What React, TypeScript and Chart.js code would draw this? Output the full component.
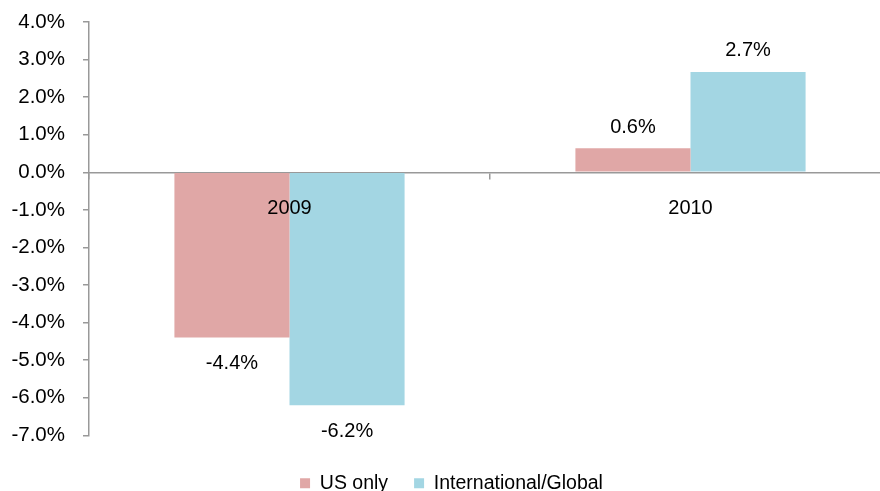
import React, { useEffect, useRef } from "react";
import { Chart, registerables } from "chart.js";

Chart.register(...registerables);

const categories = ["2009", "2010"];
const seriesNames = ["US only", "International/Global"];
const usOnly = [-4.4, 0.64];
const international = [-6.2, 2.67];
const seriesColors = ["#E0A7A6", "#A3D6E3"];
const yMin = -7;
const yMax = 4;
const yStep = 1;

const FONT = "'Liberation Sans', Arial, sans-serif";

const valueLabels = {
  id: "valueLabels",
  afterDatasetsDraw(chart: any) {
    const ctx = chart.ctx;
    ctx.save();
    ctx.font = `20px ${FONT}`;
    ctx.fillStyle = "#000";
    ctx.textAlign = "center";
    ctx.textBaseline = "middle";
    chart.data.datasets.forEach((ds: any, di: number) => {
      const meta = chart.getDatasetMeta(di);
      meta.data.forEach((bar: any, i: number) => {
        const v = ds.data[i];
        const y = v >= 0 ? bar.y - 21 : bar.y + 26;
        ctx.fillText(v.toFixed(1) + "%", bar.x, y);
      });
    });
    ctx.restore();
  },
};

const shiftLegend = {
  id: "shiftLegend",
  afterLayout(chart: any) {
    if (chart.legend) {
      chart.legend.left += 6;
      chart.legend.right += 6;
    }
  },
};

export default function App() {
  const ref = useRef<HTMLCanvasElement>(null);
  useEffect(() => {
    const chart = new Chart(ref.current!, {
      type: "bar",
      data: {
        labels: categories,
        datasets: [
          { label: seriesNames[0], data: usOnly, backgroundColor: seriesColors[0], categoryPercentage: 0.574, barPercentage: 1 },
          { label: seriesNames[1], data: international, backgroundColor: seriesColors[1], categoryPercentage: 0.574, barPercentage: 1 },
        ],
      },
      options: {
        animation: false,
        responsive: false,
        maintainAspectRatio: false,
        layout: { padding: { top: 22, right: 9, bottom: 0, left: 0 } },
        plugins: {
          tooltip: { enabled: false },
          legend: {
            position: "bottom",
            title: { display: true, text: "", font: { size: 1 }, padding: { top: 11, bottom: 0 } },
            labels: {
              boxWidth: 10,
              boxHeight: 10,
              color: "#000",
              font: { family: FONT, size: 19.5 },
              padding: 26,
            },
          },
        },
        scales: {
          x: {
            position: { y: 0 } as any,
            offset: true,
            grid: { offset: true, drawOnChartArea: false, drawTicks: true, tickLength: 6, color: "#999", lineWidth: 1.5 },
            border: { display: true, color: "#999", width: 1.5 },
            ticks: { color: "#000", font: { family: FONT, size: 20 }, padding: 18, maxRotation: 0, z: 1 } as any,
          },
          y: {
            min: yMin,
            max: yMax,
            grid: { drawOnChartArea: false, drawTicks: true, tickLength: 6, color: "#999", lineWidth: 1.5 },
            border: { display: true, color: "#999", width: 1.5 },
            ticks: {
              stepSize: yStep,
              color: "#000",
              font: { family: FONT, size: 20.5 },
              padding: 18,
              callback: (v: any) => Number(v).toFixed(1) + "%",
            },
            afterFit: (s: any) => {
              s.width = 89;
              s.paddingTop = 0;
              s.paddingBottom = 0;
            },
          },
        },
      },
      plugins: [valueLabels, shiftLegend],
    });
    return () => chart.destroy();
  }, []);
  return (
    <div style={{ position: "fixed", left: 0, top: 0, width: 880, height: 491, overflow: "hidden", background: "#fff" }}>
      <canvas ref={ref} width={900} height={503} style={{ display: "block" }} />
    </div>
  );
}
